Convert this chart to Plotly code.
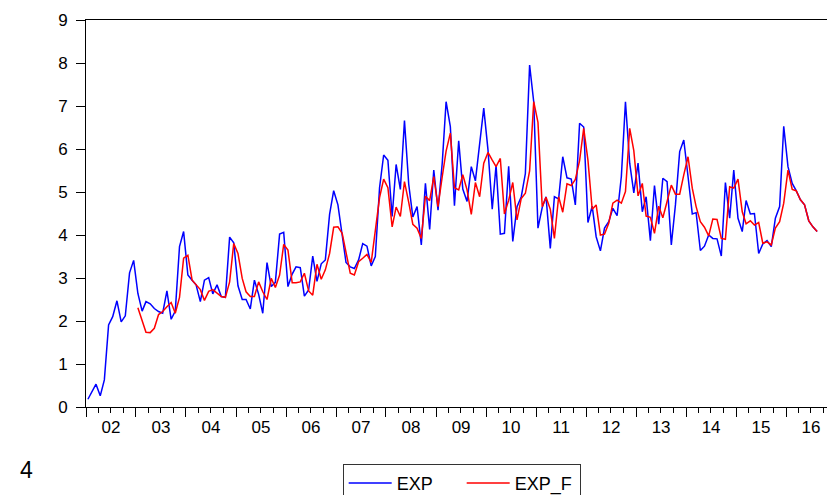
import pandas as pd
import plotly.graph_objects as go

# Monthly series, EXP from 2002-01, EXP_F from 2003-01 (both to 2016-08)
exp_start = "2002-01-01"
exp_f_start = "2003-01-01"

exp_values = [
    0.18, 0.38, 0.53, 0.26, 0.63, 1.91, 2.10, 2.47, 1.98, 2.12, 3.12, 3.41,   # 2002
    2.64, 2.23, 2.45, 2.40, 2.29, 2.22, 2.18, 2.70, 2.04, 2.23, 3.73, 4.08,   # 2003
    3.07, 2.95, 2.84, 2.45, 2.95, 3.01, 2.63, 2.84, 2.57, 2.55, 3.95, 3.82,   # 2004
    2.82, 2.50, 2.50, 2.28, 2.95, 2.62, 2.18, 3.36, 2.80, 2.90, 4.02, 4.06,   # 2005
    2.80, 3.09, 3.26, 3.24, 2.58, 2.72, 3.51, 2.92, 3.33, 3.42, 4.48, 5.03,   # 2006
    4.70, 4.00, 3.36, 3.26, 3.22, 3.42, 3.80, 3.74, 3.28, 3.50, 5.10, 5.86,   # 2007
    5.74, 4.43, 5.64, 5.06, 6.66, 5.18, 4.42, 4.66, 3.77, 5.20, 4.13, 5.51,   # 2008
    4.58, 5.68, 7.10, 6.52, 4.68, 6.19, 5.07, 4.78, 5.59, 5.26, 6.08, 6.95,   # 2009
    5.98, 4.60, 5.62, 4.02, 4.04, 5.60, 3.85, 4.66, 4.89, 5.43, 7.95, 7.10,   # 2010
    4.16, 4.64, 4.89, 3.69, 4.89, 4.84, 5.82, 5.33, 5.30, 4.70, 6.60, 6.51,   # 2011
    4.29, 4.67, 3.96, 3.63, 4.16, 4.31, 4.62, 4.45, 5.36, 7.10, 5.67, 4.98,   # 2012
    5.67, 4.54, 4.89, 3.87, 5.15, 4.25, 5.32, 5.24, 3.77, 4.70, 5.94, 6.21,   # 2013
    5.36, 4.49, 4.52, 3.64, 3.74, 4.00, 3.92, 3.91, 3.51, 5.22, 4.39, 5.51,   # 2014
    4.39, 4.08, 4.80, 4.49, 4.50, 3.57, 3.79, 3.87, 3.73, 4.39, 4.66, 6.53,   # 2015
    5.59, 5.20, 5.03, 4.82, 4.70, 4.33, 4.19, 4.08,                           # 2016
]

exp_f_values = [
    2.31, 1.98, 1.74, 1.73, 1.83, 2.15, 2.22, 2.33, 2.43, 2.18, 2.55, 3.46,   # 2003
    3.53, 2.95, 2.85, 2.73, 2.48, 2.69, 2.73, 2.66, 2.57, 2.55, 2.91, 3.80,   # 2004
    3.57, 2.99, 2.68, 2.57, 2.57, 2.91, 2.68, 2.50, 2.99, 2.78, 3.07, 3.78,   # 2005
    3.65, 2.89, 2.89, 2.91, 3.11, 2.70, 2.60, 3.32, 2.97, 3.19, 3.57, 4.18,   # 2006
    4.19, 4.04, 3.57, 3.11, 3.07, 3.38, 3.46, 3.55, 3.36, 4.12, 4.87, 5.30,   # 2007
    5.10, 4.19, 4.65, 4.43, 5.24, 4.76, 4.25, 4.16, 3.92, 4.90, 4.80, 5.36,   # 2008
    4.66, 5.36, 5.95, 6.37, 5.10, 5.05, 5.40, 5.05, 4.48, 5.22, 4.89, 5.67,   # 2009
    5.92, 5.74, 5.59, 5.78, 4.49, 4.81, 5.22, 4.35, 4.85, 4.97, 5.49, 7.10,   # 2010
    6.62, 4.66, 4.88, 4.60, 3.92, 4.89, 4.53, 5.19, 5.15, 5.29, 5.73, 6.48,   # 2011
    5.74, 4.60, 4.70, 4.00, 4.02, 4.27, 4.74, 4.81, 4.74, 5.01, 6.48, 5.96,   # 2012
    4.91, 5.20, 4.44, 4.41, 4.04, 4.67, 4.40, 4.78, 5.16, 4.95, 4.95, 5.40,   # 2013
    5.82, 5.09, 4.66, 4.31, 4.18, 3.98, 4.37, 4.36, 3.92, 3.90, 5.12, 5.09,   # 2014
    5.30, 4.54, 4.26, 4.33, 4.23, 4.29, 3.81, 3.84, 3.77, 4.16, 4.31, 4.74,   # 2015
    5.51, 5.06, 5.03, 4.82, 4.70, 4.33, 4.19, 4.08,                           # 2016
]

series_names = ["EXP", "EXP_F"]
series_colors = ["#0000FF", "#FF0000"]

offset = pd.Timedelta(days=14)
exp_dates = pd.date_range(exp_start, periods=len(exp_values), freq="MS") + offset
exp_f_dates = pd.date_range(exp_f_start, periods=len(exp_f_values), freq="MS") + offset

FONT = "Liberation Sans, Arial, sans-serif"

fig = go.Figure()
fig.add_trace(go.Scatter(x=exp_dates, y=exp_values, mode="lines", name=series_names[0],
                         line=dict(color=series_colors[0], width=1.5)))
fig.add_trace(go.Scatter(x=exp_f_dates, y=exp_f_values, mode="lines", name=series_names[1],
                         line=dict(color=series_colors[1], width=1.5)))

fig.update_layout(
    width=827, height=495,
    margin=dict(l=86, r=0, t=20, b=88, autoexpand=False),
    paper_bgcolor="white", plot_bgcolor="white",
    font=dict(family=FONT, size=17, color="black"),
    showlegend=True,
    legend=dict(
        orientation="h", x=0.507, xanchor="center", y=-0.147, yanchor="top",
        bordercolor="#333333", borderwidth=1, font=dict(size=18),
        traceorder="normal", itemwidth=43, entrywidth=60,
    ),
    xaxis=dict(
        type="date", range=["2002-01-01", "2016-10-26"],
        tick0="2002-01-01", dtick="M12", tickformat="%y", ticklabelmode="period",
        ticks="outside", ticklen=9, tickcolor="black", tickwidth=1,
        ticklabelstandoff=-4,
        minor=dict(dtick="M3", tick0="2002-01-01", ticks="outside", ticklen=5,
                   tickcolor="black", tickwidth=1, showgrid=False),
        showline=True, linecolor="black", linewidth=1, mirror=True,
        showgrid=False, zeroline=False, automargin=False,
    ),
    yaxis=dict(
        range=[0, 9], dtick=1, tick0=0,
        ticks="outside", ticklen=9, tickcolor="black", tickwidth=1,
        ticklabelstandoff=5,
        showline=True, linecolor="black", linewidth=1,
        showgrid=False, zeroline=False, automargin=False,
    ),
    annotations=[dict(text="4", xref="paper", yref="paper", x=-0.0914, y=-0.2008,
                      showarrow=False, font=dict(size=23, color="black"))],
)

fig.write_html("out.html", config={"displayModeBar": False},
               post_script="document.body.style.margin='0';")
